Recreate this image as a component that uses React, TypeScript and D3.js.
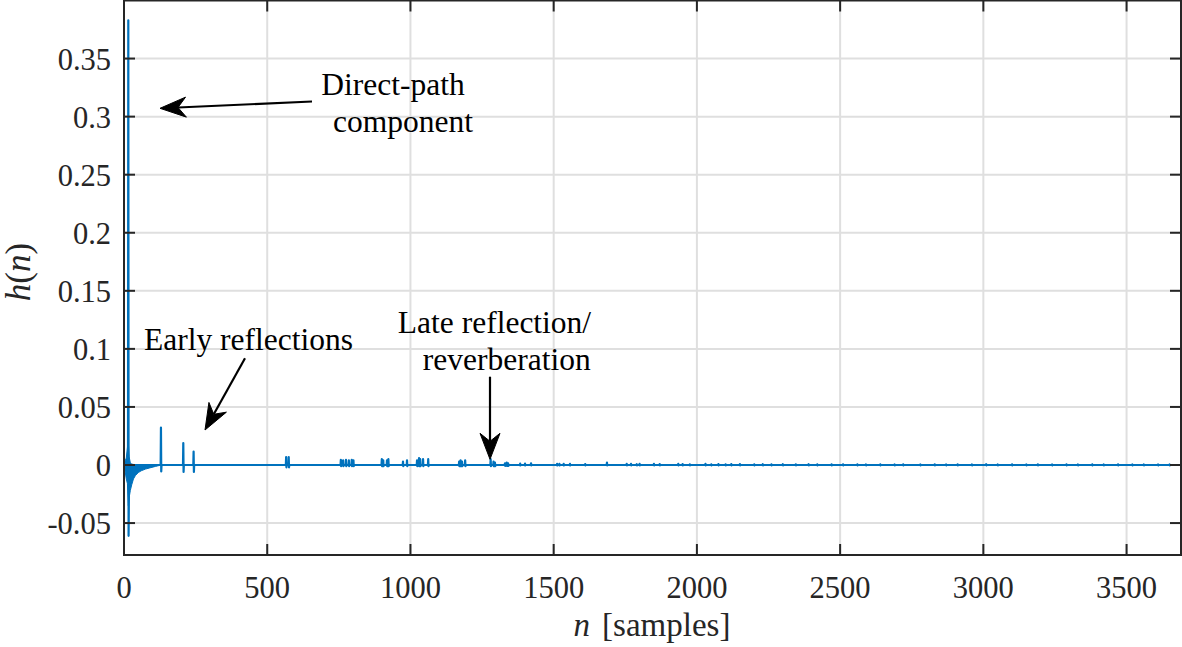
import * as d3 from 'd3';

const width = 1182;
const height = 647;

// axis limits
const xDomain = [0, 3690];
const yDomain = [-0.0775, 0.4];
const xTicks = [0, 500, 1000, 1500, 2000, 2500, 3000, 3500];
const yTicks = [-0.05, 0, 0.05, 0.1, 0.15, 0.2, 0.25, 0.3, 0.35];
const yTickLabels = ['-0.05', '0', '0.05', '0.1', '0.15', '0.2', '0.25', '0.3', '0.35'];

// direct path: sample index, peak, trough
const directN = 15;
const directPeak = 0.383;
const directTrough = -0.061;

// dense decaying part right after the direct path (envelope of the oscillation)
const envN = [0, 3, 8, 12, 15, 18, 22, 27, 33, 40, 50, 60, 75, 90, 110, 130];
const envHi = [0, 0.003, 0.006, 0.015, 0.02, 0.007, 0.002, 0.0008, 0.0005, 0.0004, 0.0003, 0.0002, 0.0002, 0.0001, 0.0001, 0];
const envLo = [0, -0.004, -0.012, -0.016, -0.035, -0.028, -0.022, -0.017, -0.012, -0.009, -0.0065, -0.005, -0.0035, -0.0025, -0.0012, 0];

// reflections: [sample, peak, dip]
const reflections: [number, number, number][] = [
  [129, 0.0323, -0.0056], [207, 0.0189, -0.006], [243, 0.0116, -0.006],
  [566, 0.0068, -0.002], [575, 0.0068, -0.002],
  [757, 0.0045, -0.001], [765, 0.004, -0.001], [775, 0.0045, -0.001], [785, 0.004, -0.001], [795, 0.0045, -0.001], [801, 0.004, -0.001],
  [900, 0.005, -0.001], [905, 0.004, -0.001], [918, 0.004, -0.001], [923, 0.005, -0.001],
  [974, 0.003, -0.001], [988, 0.004, -0.001], [1023, 0.004, -0.001], [1030, 0.006, -0.001], [1034, 0.005, -0.001],
  [1044, 0.005, -0.001], [1062, 0.005, -0.001],
  [1170, 0.003, -0.001], [1175, 0.004, -0.001], [1180, 0.003, -0.001], [1191, 0.004, -0.001],
  [1280, 0.005, -0.001], [1290, 0.003, -0.001], [1295, 0.002, -0.001],
  [1330, 0.0015, -0.0008], [1336, 0.002, -0.0008], [1341, 0.0015, -0.0008],
  [1383, 0.0012, -0.0004], [1400, 0.0012, -0.0004], [1421, 0.0015, -0.0004],
  [1512, 0.001, -0.0004], [1520, 0.001, -0.0004], [1535, 0.001, -0.0004], [1557, 0.001, -0.0004],
  [1610, 0.0008, -0.0003], [1686, 0.002, -0.0003], [1755, 0.001, -0.0003], [1770, 0.001, -0.0003],
  [1790, 0.0007, -0.0003], [1800, 0.001, -0.0003], [1850, 0.001, -0.0003], [1870, 0.0008, -0.0003],
  [1935, 0.001, -0.0003], [1950, 0.0008, -0.0003], [1975, 0.0006, -0.0003], [2030, 0.001, -0.0003],
  [2050, 0.0006, -0.0003], [2075, 0.0008, -0.0003], [2100, 0.0006, -0.0003], [2120, 0.0008, -0.0003],
  [2150, 0.0008, -0.0003], [2200, 0.0006, -0.0003], [2230, 0.0007, -0.0003], [2260, 0.0006, -0.0003],
  [2300, 0.0007, -0.0003], [2345, 0.0006, -0.0003], [2390, 0.0007, -0.0003], [2420, 0.0006, -0.0003],
  [2470, 0.0006, -0.0003], [2510, 0.0006, -0.0003], [2560, 0.0006, -0.0003], [2590, 0.0005, -0.0003],
  [2640, 0.0006, -0.0003], [2690, 0.0005, -0.0003], [2720, 0.0006, -0.0003], [2780, 0.0005, -0.0003],
  [2830, 0.0006, -0.0003], [2870, 0.0005, -0.0003], [2910, 0.0006, -0.0003], [2960, 0.0005, -0.0003],
  [3010, 0.0007, -0.0003], [3050, 0.0005, -0.0003], [3100, 0.0006, -0.0003], [3150, 0.0005, -0.0003],
  [3190, 0.0006, -0.0003], [3240, 0.0005, -0.0003], [3290, 0.0006, -0.0003], [3330, 0.0005, -0.0003],
  [3380, 0.0006, -0.0003], [3420, 0.0005, -0.0003], [3470, 0.0006, -0.0003], [3520, 0.0005, -0.0003],
  [3560, 0.0005, -0.0003], [3610, 0.0005, -0.0003], [3650, 0.0005, -0.0003],
];

const x = d3.scaleLinear().domain(xDomain).range([124, 1181]);
const y = d3.scaleLinear().domain(yDomain).range([555, 0.5]);

const blue = '#0072BD';
const serif = (size: number) => ({ fontFamily: '"Liberation Serif"', fontSize: size });

function arrow(x1: number, y1: number, x2: number, y2: number) {
  // MATLAB style head: tip at (x2,y2)
  const a = Math.atan2(y2 - y1, x2 - x1);
  const len = 26, half = 10, notch = 18;
  const ux = Math.cos(a), uy = Math.sin(a);
  const px = -uy, py = ux;
  const bx = x2 - ux * len, by = y2 - uy * len;
  const nx = x2 - ux * notch, ny = y2 - uy * notch;
  const head = `M${x2},${y2}L${bx + px * half},${by + py * half}L${nx},${ny}L${bx - px * half},${by - py * half}Z`;
  return (
    <g>
      <line x1={x1} y1={y1} x2={nx} y2={ny} stroke="#000" strokeWidth={2.2} />
      <path d={head} fill="#000" stroke="#000" strokeWidth={1} />
    </g>
  );
}

const App = () => {
  const pts: [number, number][] = [[0, 0], [directN - 1, 0], [directN, directPeak], [directN + 1, directTrough], [directN + 3, 0]];
  reflections.forEach(([n, p, d]) => {
    pts.push([n - 1, 0], [n, p], [n + 1, d], [n + 2, 0]);
  });
  pts.push([xDomain[1], 0]);
  const line = d3.line<[number, number]>().x(d => x(d[0])).y(d => y(d[1]));
  const band = d3.area<number>()
    .x(i => x(envN[i]))
    .y0(i => y(envLo[i]))
    .y1(i => y(envHi[i]));
  const idx = envN.map((_, i) => i);

  const [x0, x1] = x.range();
  const [y0, y1] = y.range();

  return (
    <svg width={width} height={height} style={{ position: 'absolute', left: 0, top: 0, background: '#fff' }}>
      {/* grid */}
      {xTicks.map(t => (
        <line key={'gx' + t} x1={x(t)} x2={x(t)} y1={y1} y2={y0} stroke="#dfdfdf" strokeWidth={2} />
      ))}
      {yTicks.map(t => (
        <line key={'gy' + t} x1={x0} x2={x1} y1={y(t)} y2={y(t)} stroke="#dfdfdf" strokeWidth={2} />
      ))}

      {/* data */}
      <path d={band(idx) || ''} fill={blue} stroke={blue} strokeWidth={1} />
      <path d={line(pts) || ''} fill="none" stroke={blue} strokeWidth={2.2} strokeLinejoin="round" />

      {/* box + ticks */}
      <rect x={x0} y={y1} width={x1 - x0} height={y0 - y1} fill="none" stroke="#262626" strokeWidth={2} />
      {xTicks.map(t => (
        <g key={'tx' + t}>
          <line x1={x(t)} x2={x(t)} y1={y0} y2={y0 - 11} stroke="#262626" strokeWidth={2} />
          <line x1={x(t)} x2={x(t)} y1={y1} y2={y1 + 11} stroke="#262626" strokeWidth={2} />
          <text x={x(t)} y={598} textAnchor="middle" style={serif(30.5)} fill="#262626">{t}</text>
        </g>
      ))}
      {yTicks.map((t, i) => (
        <g key={'ty' + t}>
          <line x1={x0} x2={x0 + 11} y1={y(t)} y2={y(t)} stroke="#262626" strokeWidth={2} />
          <line x1={x1} x2={x1 - 11} y1={y(t)} y2={y(t)} stroke="#262626" strokeWidth={2} />
          <text x={111} y={y(t) + 11} textAnchor="end" style={serif(30.5)} fill="#262626">{yTickLabels[i]}</text>
        </g>
      ))}

      {/* axis labels */}
      <text x={652} y={636} textAnchor="middle" style={serif(33)} fill="#262626">
        <tspan fontStyle="italic">n</tspan>
        <tspan dx={12}>[samples]</tspan>
      </text>
      <text transform="translate(30,272) rotate(-90)" textAnchor="middle" style={serif(35)} fill="#262626">
        <tspan fontStyle="italic">h</tspan>(<tspan fontStyle="italic">n</tspan>)
      </text>

      {/* annotations */}
      <g fill="#000" textAnchor="middle">
        <text x={393} y={95} style={serif(31.5)}>Direct-path</text>
        <text x={403} y={132} style={serif(31.5)}>component</text>
        <text x={248.5} y={350} style={serif(31.5)}>Early reflections</text>
        <text x={494.5} y={333} style={serif(31.5)}>Late reflection/</text>
        <text x={506.7} y={370} style={serif(31.5)}>reverberation</text>
      </g>
      {arrow(312, 101.5, 160, 108.3)}
      {arrow(245, 358.3, 205, 430)}
      {arrow(490, 376.7, 490, 459.3)}
    </svg>
  );
};

export default App;
